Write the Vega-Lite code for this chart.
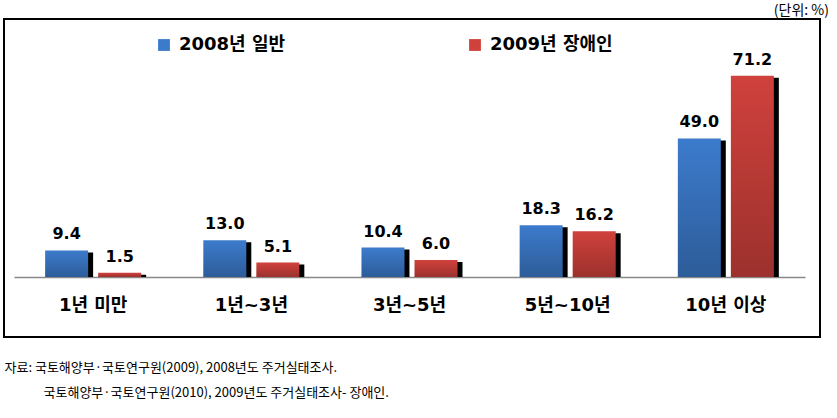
{
  "$schema": "https://vega.github.io/schema/vega-lite/v6.json",
  "width": 816,
  "height": 318,
  "padding": {"left": 4, "top": 4, "right": 0, "bottom": 0},
  "autosize": {"type": "pad"},
  "background": "white",
  "title": {"text": "(단위: %)", "anchor": "end", "orient": "top", "font": "Noto Sans CJK KR", "fontSize": 14, "fontWeight": "normal", "color": "#000", "offset": 1, "dx": 9},
  "data": {
    "values": [
      {"cat": "1년 미만", "series": "2008년 일반", "value": 9.4},
      {"cat": "1년 미만", "series": "2009년 장애인", "value": 1.5},
      {"cat": "1년~3년", "series": "2008년 일반", "value": 13.0},
      {"cat": "1년~3년", "series": "2009년 장애인", "value": 5.1},
      {"cat": "3년~5년", "series": "2008년 일반", "value": 10.4},
      {"cat": "3년~5년", "series": "2009년 장애인", "value": 6.0},
      {"cat": "5년~10년", "series": "2008년 일반", "value": 18.3},
      {"cat": "5년~10년", "series": "2009년 장애인", "value": 16.2},
      {"cat": "10년 이상", "series": "2008년 일반", "value": 49.0},
      {"cat": "10년 이상", "series": "2009년 장애인", "value": 71.2}
    ]
  },
  "encoding": {
    "xOffset": {
      "field": "series",
      "type": "nominal",
      "sort": ["2008년 일반", "2009년 장애인"],
      "scale": {"paddingInner": 0.19, "paddingOuter": 0}
    },
    "y": {
      "field": "value",
      "type": "quantitative",
      "scale": {"domain": [-21.22, 91.26], "nice": false, "zero": false},
      "axis": null
    },
    "y2": {"datum": 0}
  },
  "layer": [
    {
      "mark": {"type": "bar", "fill": "#000", "yOffset": 2},
      "encoding": {
        "x": {
          "field": "cat",
          "type": "nominal",
          "sort": ["1년 미만", "1년~3년", "3년~5년", "5년~10년", "10년 이상"],
          "scale": {"range": [15, 806], "paddingInner": 0.393, "paddingOuter": 0.197},
          "axis": null
        }
      }
    },
    {
      "encoding": {
        "x": {
          "field": "cat",
          "type": "nominal",
          "sort": ["1년 미만", "1년~3년", "3년~5년", "5년~10년", "10년 이상"],
          "scale": {"range": [10, 801], "paddingInner": 0.393, "paddingOuter": 0.197},
          "axis": {
            "orient": "bottom",
            "offset": -60,
            "labelAngle": 0,
            "ticks": false,
            "grid": false,
            "domainColor": "#888888",
            "domainWidth": 1.5,
            "labelFont": "DejaVu Sans, Noto Sans CJK KR",
            "labelFontWeight": "bold",
            "labelFontSize": 18,
            "labelColor": "#000",
            "labelPadding": 19,
            "title": ["자료: 국토해양부·국토연구원(2009), 2008년도 주거실태조사.", "\u200b\u3000\u3000\u3000국토해양부·국토연구원(2010), 2009년도 주거실태조사- 장애인."],
            "titleX": 0,
            "titleY": 84,
            "titleAnchor": "start",
            "titleAlign": "left",
            "titleBaseline": "top",
            "titleAngle": 0,
            "titleFont": "Noto Sans CJK KR",
            "titleFontWeight": "normal",
            "titleFontSize": 13,
            "titleLineHeight": 25,
            "titleColor": "#000"
          }
        }
      },
      "layer": [
        {
          "mark": {"type": "bar"},
          "encoding": {
            "color": {
              "field": "series",
              "type": "nominal",
              "sort": ["2008년 일반", "2009년 장애인"],
              "scale": {"range": ["#3C7BCC", "#D0413C"]},
              "legend": {
                "orient": "none",
                "legendX": 151,
                "legendY": 17,
                "direction": "horizontal",
                "title": null,
                "symbolType": "square",
                "symbolSize": 140,
                "symbolStrokeWidth": 0,
                "symbolOpacity": 1,
                "labelFont": "DejaVu Sans, Noto Sans CJK KR",
                "labelFontWeight": "bold",
                "labelFontSize": 18,
                "labelColor": "#000",
                "labelOffset": 6,
                "columnPadding": 180,
                "padding": 0
              }
            }
          }
        },
        {
          "mark": {
            "type": "bar",
            "fill": {
              "gradient": "linear",
              "x1": 0, "y1": 0, "x2": 0, "y2": 1,
              "stops": [
                {"offset": 0, "color": "rgba(0,0,0,0)"},
                {"offset": 1, "color": "rgba(0,0,0,0.25)"}
              ]
            }
          }
        },
        {
          "mark": {"type": "text", "dy": -11, "baseline": "alphabetic", "font": "DejaVu Sans", "fontWeight": "bold", "fontSize": 16, "color": "#000"},
          "encoding": {"text": {"field": "value", "type": "quantitative", "format": ".1f"}}
        }
      ]
    }
  ],
  "resolve": {"scale": {"x": "independent"}, "axis": {"x": "independent"}},
  "config": {
    "view": {"stroke": "#000", "strokeWidth": 2}
  }
}
